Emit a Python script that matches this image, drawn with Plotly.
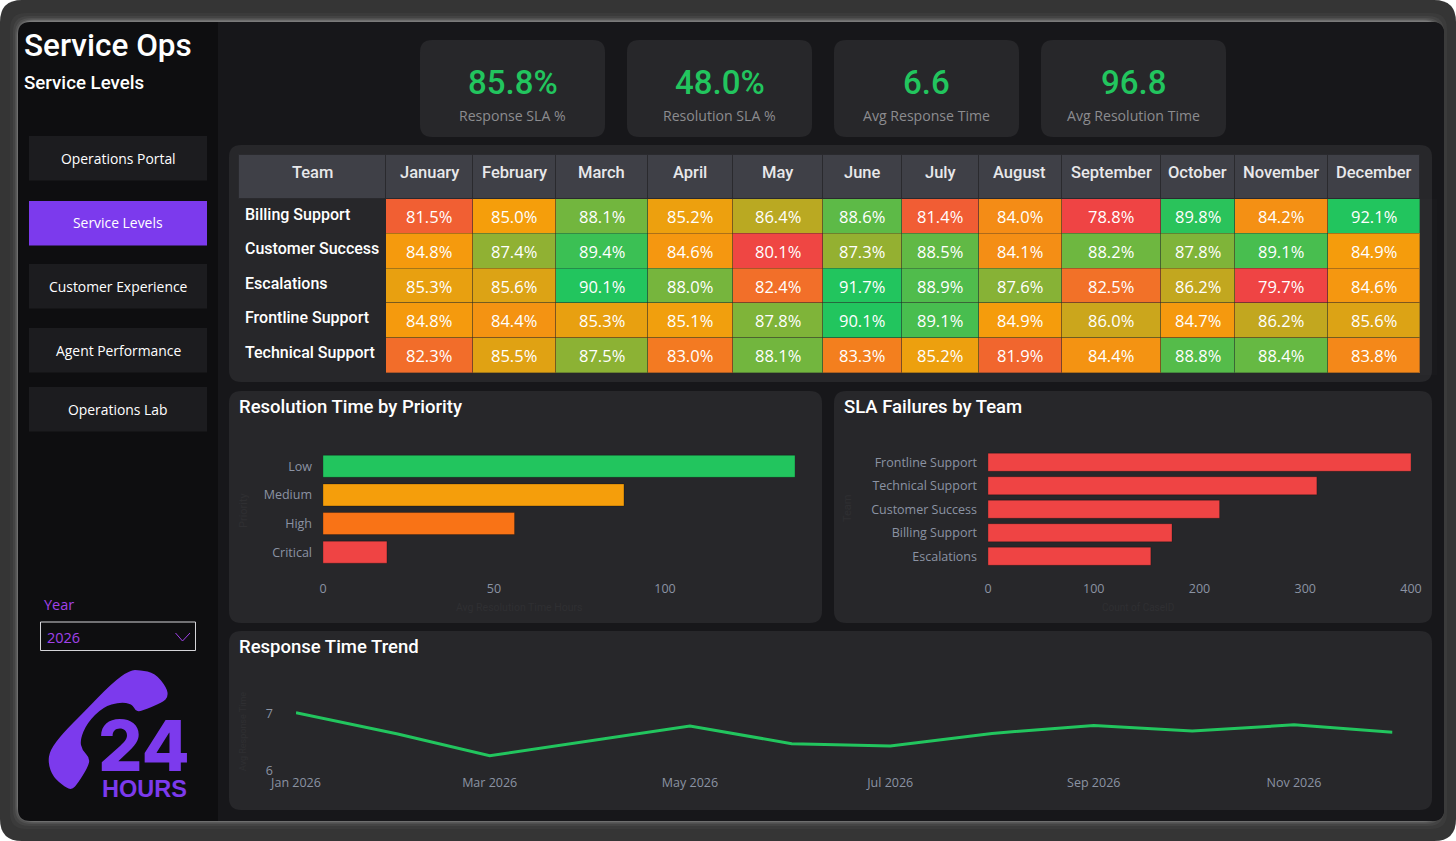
import plotly.graph_objects as go

W, H = 1456, 841

# ---- data ----
months = ['January', 'February', 'March', 'April', 'May', 'June', 'July',
          'August', 'September', 'October', 'November', 'December']
teams = ['Billing Support', 'Customer Success', 'Escalations', 'Frontline Support', 'Technical Support']
billing = [81.5, 85.0, 88.1, 85.2, 86.4, 88.6, 81.4, 84.0, 78.8, 89.8, 84.2, 92.1]
customer = [84.8, 87.4, 89.4, 84.6, 80.1, 87.3, 88.5, 84.1, 88.2, 87.8, 89.1, 84.9]
escalations = [85.3, 85.6, 90.1, 88.0, 82.4, 91.7, 88.9, 87.6, 82.5, 86.2, 79.7, 84.6]
frontline = [84.8, 84.4, 85.3, 85.1, 87.8, 90.1, 89.1, 84.9, 86.0, 84.7, 86.2, 85.6]
technical = [82.3, 85.5, 87.5, 83.0, 88.1, 83.3, 85.2, 81.9, 84.4, 88.8, 88.4, 83.8]

kpi_values = ['85.8%', '48.0%', '6.6', '96.8']
kpi_labels = ['Response SLA %', 'Resolution SLA %', 'Avg Response Time', 'Avg Resolution Time']
nav_items = ['Operations Portal', 'Service Levels', 'Customer Experience', 'Agent Performance', 'Operations Lab']

priorities = ['Low', 'Medium', 'High', 'Critical']
priority_hours = [138, 88, 56, 18.7]
failure_teams = ['Frontline Support', 'Technical Support', 'Customer Success', 'Billing Support', 'Escalations']
failure_counts = [400, 311, 219, 174, 154]

trend_dates = ['2026-01-01', '2026-02-01', '2026-03-01', '2026-04-01', '2026-05-01', '2026-06-01',
               '2026-07-01', '2026-08-01', '2026-09-01', '2026-10-01', '2026-11-01', '2026-12-01']
trend_values = [7.01, 6.64, 6.26, 6.52, 6.78, 6.47, 6.43, 6.65, 6.79, 6.69, 6.80, 6.67]

# ---- styles ----
TITLE_FONT = 'Roboto'
BODY_FONT = 'Open Sans'
GREEN, ORANGE, RED = '#22c55e', '#f59e0b', '#ef4444'
DEEP_ORANGE = '#f97316'
PURPLE = '#7c3aed'
PANEL = '#27272a'
MAIN_BG = '#17171a'
SIDE_BG = '#0e0e10'
TICK = '#8b93a3'
FAINT = '#2f2f32'


def px(x):
    return x / W


def py(y):
    return 1 - y / H


def rr_path(x0, y0, x1, y1, rl, rr=None):
    # rounded rect as svg path, rl/rr = left and right corner radius
    rr = rl if rr is None else rr
    pts = [
        f'M{px(x0 + rl)},{py(y0)}', f'L{px(x1 - rr)},{py(y0)}',
        f'Q{px(x1)},{py(y0)} {px(x1)},{py(y0 + rr)}', f'L{px(x1)},{py(y1 - rr)}',
        f'Q{px(x1)},{py(y1)} {px(x1 - rr)},{py(y1)}', f'L{px(x0 + rl)},{py(y1)}',
        f'Q{px(x0)},{py(y1)} {px(x0)},{py(y1 - rl)}', f'L{px(x0)},{py(y0 + rl)}',
        f'Q{px(x0)},{py(y0)} {px(x0 + rl)},{py(y0)}', 'Z']
    return ' '.join(pts)


shapes = []


def box(x0, y0, x1, y1, color, rl=0, rr=None, line=None):
    shapes.append(dict(type='path', xref='paper', yref='paper', layer='below',
                       path=rr_path(x0, y0, x1, y1, rl, rr), fillcolor=color,
                       line=dict(width=1 if line else 0, color=line or color)))


annotations = []


def label(x, y, text, size, color, family=BODY_FONT, anchor='center', weight=400, angle=0):
    # annotations carry 2px of padding, take it back for left aligned text
    x = x - 2 if anchor == 'left' else x
    annotations.append(dict(x=px(x), y=py(y - 1), xref='paper', yref='paper', text=text, showarrow=False,
                            xanchor=anchor, yanchor='middle', textangle=angle,
                            font=dict(family=family, size=size, color=color, weight=weight)))


# ---- frame ----
box(0, 0, W, H, '#353535', 22)
for inset, col in [(9, '#3b3b3b'), (12, '#444444'), (14, '#505050'), (15.5, '#626262'), (16.5, '#7a7a7a')]:
    box(inset + 1, inset + 4, W - inset + 0, H - inset - 3, col, 16)
box(18, 22, 1444, 821, SIDE_BG, 12)
box(218, 22, 1444, 821, MAIN_BG, 0, 12)

# ---- sidebar ----
label(24, 46, 'Service Ops', 31.5, '#ffffff', TITLE_FONT, 'left', 500)
label(24, 84, 'Service Levels', 18.7, '#ffffff', TITLE_FONT, 'left', 500)

nav_tops = [136, 201, 264, 328, 387]
for top, name in zip(nav_tops, nav_items):
    active = name == 'Service Levels'
    box(29, top, 207, top + 44.5, PURPLE if active else '#1c1c1f')
    label(118, top + 23, name, 13.9, '#ffffff')

label(44, 605, 'Year', 14.5, '#a142ea', BODY_FONT, 'left')
box(40.5, 622, 195.5, 650.5, SIDE_BG, line='#d4d4d8')
label(47, 638, '2026', 14.5, '#a142ea', BODY_FONT, 'left')
shapes.append(dict(type='path', xref='paper', yref='paper', fillcolor='rgba(0,0,0,0)',
                   path=f'M{px(175.5)},{py(633)} L{px(182.5)},{py(641)} L{px(190)},{py(633)}',
                   line=dict(color='#a142ea', width=1)))

# phone handset of the logo, traced as control points
phone = [(130, 670), (140, 670), (155, 673), (167, 688), (168, 697), (163, 702), (140, 712), (135, 710),
         (132, 704), (120, 702), (103, 707), (87, 723), (80, 740), (82, 750), (90, 758), (88, 767),
         (78, 783), (72, 790), (65, 787), (53, 777), (48, 763), (50, 750), (63, 733), (83, 713), (112, 683)]
n = len(phone)
mids = [((phone[i][0] + phone[(i + 1) % n][0]) / 2, (phone[i][1] + phone[(i + 1) % n][1]) / 2) for i in range(n)]
phone_path = f'M{px(mids[-1][0])},{py(mids[-1][1])} ' + ' '.join(
    f'Q{px(phone[i][0])},{py(phone[i][1])} {px(mids[i][0])},{py(mids[i][1])}' for i in range(n)) + ' Z'
shapes.append(dict(type='path', xref='paper', yref='paper', path=phone_path, fillcolor=PURPLE, line=dict(width=0)))
label(144, 746, '24', 70, PURPLE, 'Inter', 'center', 800)
label(144, 790, 'HOURS', 23.5, PURPLE, 'Liberation Sans', 'center', 700)

# ---- kpi cards ----
for left, value, name in zip([420, 627, 834, 1041], kpi_values, kpi_labels):
    box(left, 40, left + 185, 137, PANEL, 12)
    label(left + 92.5, 83, value, 33, GREEN, TITLE_FONT, 'center', 500)
    label(left + 92.5, 116, name, 14.1, '#8c8c8f')

# ---- panels ----
box(229, 145, 1432, 382, PANEL, 12)
box(229, 391, 822, 623, PANEL, 12)
box(834, 391, 1432, 623, PANEL, 12)
box(229, 631, 1432, 810, PANEL, 12)
label(239, 408, 'Resolution Time by Priority', 18.5, '#ffffff', TITLE_FONT, 'left', 500)
label(844, 408, 'SLA Failures by Team', 18.5, '#ffffff', TITLE_FONT, 'left', 500)
label(239, 648, 'Response Time Trend', 18.5, '#ffffff', TITLE_FONT, 'left', 500)

# faint axis titles, nearly the panel colour in the original
label(519, 608, 'Avg Resolution Time Hours', 10.5, FAINT, TITLE_FONT)
label(1138, 608, 'Count of CaseID', 10, FAINT, TITLE_FONT)
label(243, 511, 'Priority', 11, FAINT, TITLE_FONT, angle=-90)
label(847, 509, 'Team', 11, FAINT, TITLE_FONT, angle=-90)
label(243, 732, 'Avg Response Time', 9, FAINT, TITLE_FONT, angle=-90)


def heat_color(v):
    # red at 80, orange at 85, green at 90
    stops = [(80, (239, 68, 68)), (85, (245, 158, 11)), (90, (34, 197, 94))]
    if v <= 80:
        return 'rgb(239,68,68)'
    if v >= 90:
        return 'rgb(34,197,94)'
    lo, hi = (stops[0], stops[1]) if v < 85 else (stops[1], stops[2])
    t = (v - lo[0]) / 5
    return 'rgb(' + ','.join(str(round(a + (b - a) * t)) for a, b in zip(lo[1], hi[1])) + ')'


rows = [billing, customer, escalations, frontline, technical]
col_edges = [239, 386, 473, 556, 648, 733, 823, 902, 979, 1062, 1161, 1235, 1328, 1420]
col_widths = [b - a for a, b in zip(col_edges, col_edges[1:])]
col_mids = [(a + b) / 2 for a, b in zip(col_edges, col_edges[1:])]
month_cols = [[row[i] for row in rows] for i in range(12)]
ROW_TOP, ROW_H = 199.5, 34.6

# go.Table pins its text near the top of a cell, so the words are placed as annotations
for mid, name in zip(col_mids, ['Team'] + months):
    label(mid - 0.5, 173, name, 16.5, '#e8e8ea', TITLE_FONT, 'center', 500)
for i, team in enumerate(teams):
    label(245, ROW_TOP + ROW_H * i + 15.5, team, 16, '#ffffff', TITLE_FONT, 'left', 500)
    for mid, val in zip(col_mids[1:], rows[i]):
        label(mid - 0.5, ROW_TOP + ROW_H * i + 18.5, f'{val:.1f}%', 16.5, '#ffffff')

fig = go.Figure()

fig.add_trace(go.Table(
    domain=dict(x=[px(238.5), px(1420)], y=[py(376), py(154.5)]),
    columnwidth=col_widths,
    header=dict(values=[''] * 13, height=44,
                fill_color='#3f4047', line=dict(color='#2a2a2e', width=1)),
    cells=dict(values=[[''] * 5] * 13, height=34.8,
               fill_color=[[PANEL] * 5] + [[heat_color(v) for v in col] for col in month_cols],
               line=dict(color=[PANEL] + ['rgba(40,40,40,0.35)'] * 12, width=1))))

fig.add_trace(go.Bar(x=priority_hours, y=priorities, orientation='h', xaxis='x', yaxis='y',
                     marker=dict(color=[GREEN, ORANGE, DEEP_ORANGE, RED],
                                 line=dict(color='rgba(0,0,0,0.25)', width=1))))
fig.add_trace(go.Bar(x=failure_counts, y=failure_teams, orientation='h', xaxis='x2', yaxis='y2',
                     marker=dict(color=RED, line=dict(color='rgba(0,0,0,0.25)', width=1))))
fig.add_trace(go.Scatter(x=trend_dates, y=trend_values, mode='lines', xaxis='x3', yaxis='y3',
                         line=dict(color=GREEN, width=3)))

tick_font = dict(family=BODY_FONT, size=12.5, color=TICK)
plain = dict(showgrid=False, zeroline=False, showline=False, ticks='', tickfont=tick_font)

fig.update_layout(
    width=W, height=H, margin=dict(l=0, r=0, t=0, b=0, autoexpand=False), autosize=False,
    paper_bgcolor='#ffffff', plot_bgcolor='rgba(0,0,0,0)',
    showlegend=False, bargap=0.23, shapes=shapes, annotations=annotations,
    xaxis=dict(domain=[px(323), px(795)], range=[0, 138], dtick=50, anchor='y', ticklabelstandoff=13, **plain),
    yaxis=dict(domain=[py(566.5), py(452)], autorange='reversed', anchor='x', ticklabelstandoff=10, **plain),
    xaxis2=dict(domain=[px(988), px(1411)], range=[0, 400], dtick=100, anchor='y2', ticklabelstandoff=11, **plain),
    yaxis2=dict(domain=[py(568), py(450.5)], autorange='reversed', anchor='x2', ticklabelstandoff=10, **plain),
    xaxis3=dict(domain=[px(296), px(1392.5)], range=['2026-01-01', '2026-12-01'], dtick='M2', tickformat='%b %Y',
                anchor='y3', ticklabelstandoff=3, **plain),
    yaxis3=dict(domain=[py(770.7), py(690)], range=[6, 7.407], dtick=1, anchor='x3', ticklabelstandoff=22, **plain),
)

fig.write_html('out.html', config=dict(displayModeBar=False),
               post_script="document.body.style.margin='0';document.body.style.overflow='hidden';")
